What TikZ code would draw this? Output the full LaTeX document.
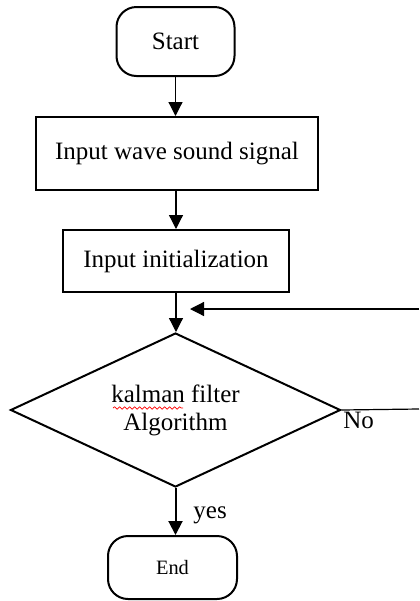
\documentclass[tikz,border=0pt]{standalone}
\usepackage{fontspec}
\setmainfont{Liberation Serif}
\usetikzlibrary{shapes.geometric,arrows.meta,decorations.pathmorphing}
\begin{document}
\begin{tikzpicture}[x=0.5pt,y=-0.5pt,
  box/.style={draw,line width=1pt,inner sep=0pt,font=\fontsize{12.5pt}{15pt}\selectfont},
  term/.style={box,rounded corners=10pt},
  decision/.style={draw,diamond,aspect=2.14,line width=1pt,inner sep=0pt,align=center,font=\fontsize{12.5pt}{14pt}\selectfont},
  flow/.style={line width=0.6pt,-{Triangle[length=7pt,width=7pt]}},
  lbl/.style={inner sep=0pt,font=\fontsize{12.5pt}{15pt}\selectfont}]
\useasboundingbox (0,0) rectangle (419,601);
\node[term,minimum width=59pt,minimum height=34.5pt] (start) at (175.5,41.5) {Start};
\node[box,minimum width=141pt,minimum height=36.5pt] (inwave) at (177,153.5) {Input wave sound signal};
\node[box,minimum width=113pt,minimum height=31pt] (init) at (176,261) {Input initialization};
\node[decision,minimum width=165pt,minimum height=77pt] (kal) at (175.5,410) {kalman filter\\Algorithm};
\node[term,minimum width=64.5pt,minimum height=31.5pt,font=\fontsize{10.2pt}{12pt}\selectfont] (end) at (172.5,567.5) {End};
\coordinate (fbA) at (419,409);
\coordinate (fbB) at (419,309);
\coordinate (fbT) at (190,309);
\coordinate (wavyA) at (113,408);
\coordinate (wavyB) at (183,408);
\draw[flow] (start.south) -- (start.south |- inwave.north);
\draw[flow] (176,0 |- inwave.south) -- (176,0 |- init.north);
\draw[flow] (init.south) -- (init.south |- kal.north);
\draw[flow,line width=1pt] (kal.south) -- (kal.south |- end.north);
\draw[line width=0.6pt] (kal.east) -- (fbA);
\draw[flow] (fbB) -- (fbT);
\draw[red,line width=0.35pt,decorate,decoration={snake,amplitude=0.6pt,segment length=2.5pt}] (wavyA) -- (wavyB);
\node[lbl,anchor=base west] (no) at (343,428) {No};
\node[lbl,anchor=base west] (yes) at (193,518) {yes};
\end{tikzpicture}
\end{document}
